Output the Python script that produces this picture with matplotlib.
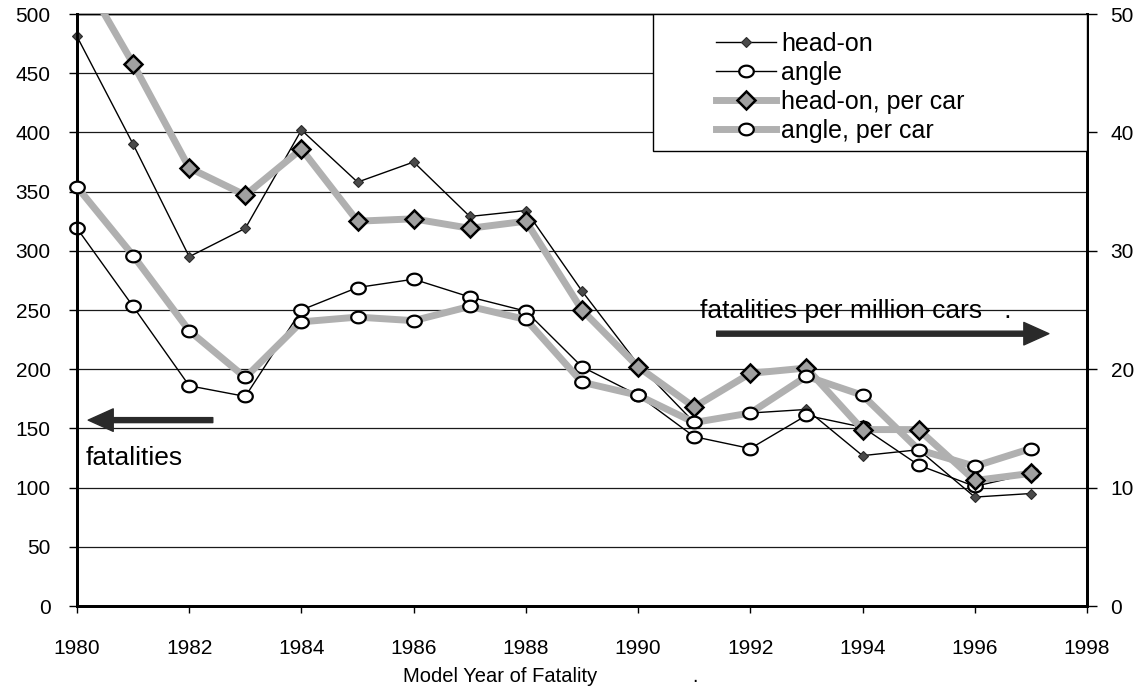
import numpy as np
import matplotlib.pyplot as plt
from matplotlib.path import Path
from matplotlib.patches import Rectangle

plt.rcParams['font.family'] = ['Liberation Sans', 'DejaVu Sans']

# data
years = list(range(1980, 1998))
head_on = [481, 390, 295, 319, 402, 358, 375, 329, 334, 266, 204, 155, 163, 166, 127, 132, 92, 95]
angle = [319, 253, 186, 177, 250, 269, 276, 261, 249, 202, 178, 143, 133, 161, 151, 119, 101, 112]
head_on_per_car = [54, 45.8, 37.0, 34.7, 38.6, 32.5, 32.7, 31.9, 32.5, 25.0, 20.2, 16.8, 19.65, 20.1, 14.9, 14.9, 10.6, 11.2]
angle_per_car = [35.4, 29.6, 23.25, 19.3, 24.0, 24.4, 24.1, 25.3, 24.2, 18.9, 17.8, 15.5, 16.3, 19.4, 17.8, 13.2, 11.8, 13.3]

left_ticks = list(range(0, 501, 50))
right_ticks = list(range(0, 51, 10))
x_ticks = list(range(1980, 1999, 2))

# slightly flattened circle, like the scanned original
t = np.linspace(0, 2 * np.pi, 40)
ellipse = Path(np.column_stack([np.cos(t), 0.8 * np.sin(t)]), closed=True)

fig = plt.figure(figsize=(11.35, 6.9), dpi=100)
ax = fig.add_axes([77 / 1135, 84 / 690, 1010 / 1135, 592 / 690])
ax2 = ax.twinx()

gray = '#b0b0b0'

# raw fatalities on the left axis
ax.plot(years, head_on, color='black', lw=1.0, marker='D', ms=5.5,
        mfc='#4a4a4a', mec='#2a2a2a', mew=0.8, clip_on=False, zorder=3,
        label='head-on')
ax.plot(years, angle, color='black', lw=1.0, marker=ellipse, ms=10.5,
        mfc='white', mec='black', mew=1.6, clip_on=False, zorder=3,
        label='angle')

# per million cars on the right axis
ax2.plot(years, head_on_per_car, color=gray, lw=5, marker='D', ms=9,
         mfc='#a0a0a0', mec='black', mew=1.8, zorder=3,
         label='head-on, per car')
ax2.plot(years, angle_per_car, color=gray, lw=5, marker=ellipse, ms=10.5,
         mfc='white', mec='black', mew=1.6, clip_on=False, zorder=3,
         label='angle, per car')

ax.set_xlim(1980, 1998)
ax.set_ylim(0, 500)
ax2.set_ylim(0, 50)
ax.set_xticks(x_ticks)
ax.set_yticks(left_ticks)
ax2.set_yticks(right_ticks)

ax.yaxis.grid(True, color='#1a1a1a', lw=0.9)
ax.set_axisbelow(True)

for a in (ax, ax2):
    for s in a.spines.values():
        s.set_color('black')
    a.spines['top'].set_linewidth(1.0)
    a.spines['left'].set_linewidth(2.0)
    a.spines['right'].set_linewidth(2.0)
    a.spines['bottom'].set_linewidth(2.0)

ax.tick_params(axis='y', length=6, width=1, pad=13, labelsize=15)
ax.tick_params(axis='x', length=5, width=1, pad=19, labelsize=15)
ax2.tick_params(axis='y', length=7, width=1, pad=10, labelsize=15)

ax.set_xlabel('Model Year of Fatality' + ' ' * 17 + '.', fontsize=14.5,
              ha='left', va='center')
ax.xaxis.set_label_coords((403 - 77) / 1010, (606 - 677) / 592)

# arrows and notes
arrow = dict(arrowstyle='simple,head_length=0.5,head_width=0.45,tail_width=0.1',
             mutation_scale=36, color='#2a2a2a', shrinkA=0, shrinkB=0)
ax.annotate('', xy=(1980.2, 157), xytext=(1982.42, 157), arrowprops=arrow)
ax.annotate('', xy=(1997.32, 230), xytext=(1991.4, 230), arrowprops=arrow)
ax.text(1980.15, 125, 'fatalities', fontsize=19, ha='left', va='center')
ax.text(1991.1, 249, 'fatalities per million cars   .', fontsize=19, ha='left', va='center')

# legend box
box = Rectangle(((653 - 77) / 1010, (606 - 151) / 592), (1087 - 653) / 1010, 137 / 592,
                transform=ax2.transAxes, facecolor='white', edgecolor='black',
                lw=1.0, zorder=5)
ax2.add_patch(box)
h1, l1 = ax.get_legend_handles_labels()
h2, l2 = ax2.get_legend_handles_labels()
leg = ax2.legend(h1 + h2, l1 + l2, loc='center left',
                 bbox_to_anchor=((716 - 77) / 1010, (606 - 87.5) / 592),
                 frameon=False, fontsize=18, borderpad=0, borderaxespad=0,
                 handlelength=2.4, handletextpad=0.2, labelspacing=0.2,
                 numpoints=1)
leg.set_zorder(6)

fig.savefig('out.png', dpi=100)
